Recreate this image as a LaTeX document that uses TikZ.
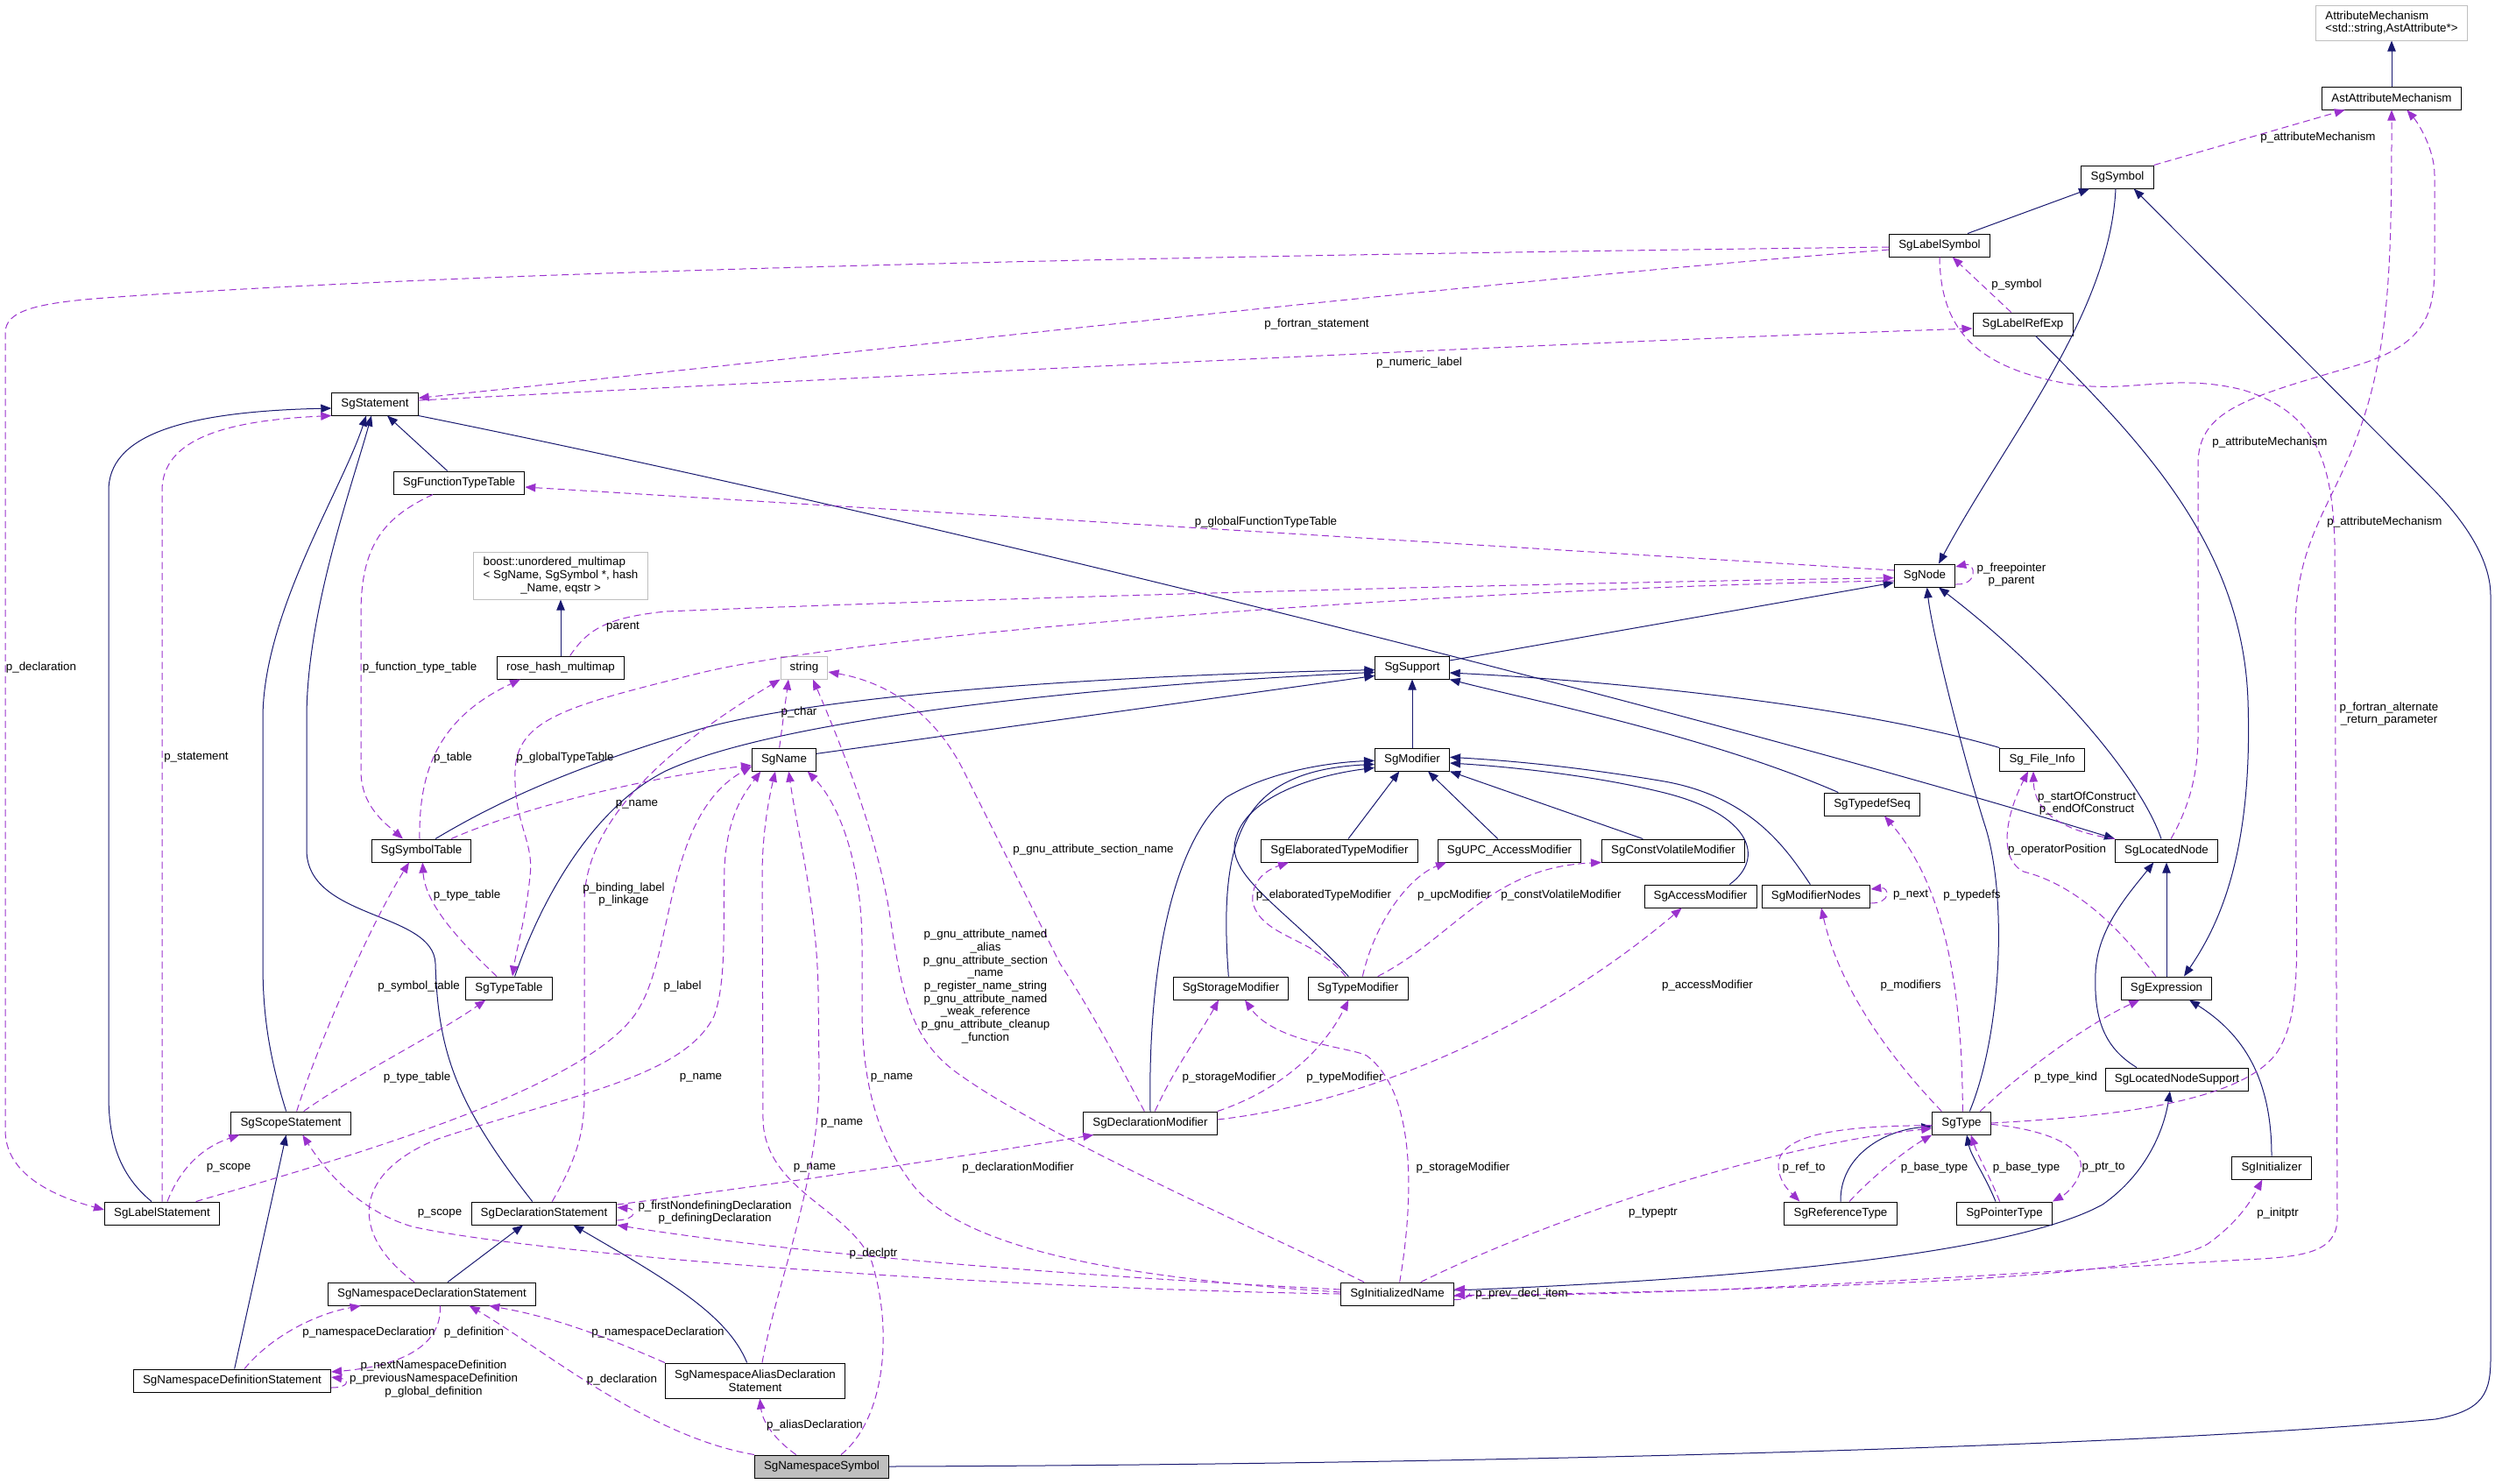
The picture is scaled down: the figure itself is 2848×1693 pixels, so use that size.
\documentclass[tikz,border=0pt]{standalone}
\usepackage{fontspec}
\usepackage{xcolor}
\usetikzlibrary{arrows.meta}
\newfontfamily\dotfont{Liberation Sans}
\newcommand{\dotsize}{\dotfont\fontsize{10}{11}\selectfont}
\definecolor{inhcol}{HTML}{191970}
\definecolor{usecol}{HTML}{9A32CD}
\definecolor{extcol}{HTML}{BFBFBF}
\tikzset{
  cls/.style={draw=black, line width=0.75pt, fill=white, inner xsep=8pt, inner ysep=2pt,
    minimum height=19.5pt, font=\dotsize},
  ext/.style={cls, draw=extcol},
  focus/.style={cls, fill=extcol},
  inh/.style={draw=inhcol, line width=0.75pt, -{Triangle[length=9pt,width=7pt]}},
  use/.style={draw=usecol, line width=0.75pt, dash pattern=on 6pt off 3.5pt,
    -{Triangle[length=9pt,width=7pt]}},
  lbl/.style={font=\dotsize, align=center, inner sep=0pt}
}

\begin{document}
\begin{tikzpicture}[x=0.75pt,y=-0.75pt]
  \useasboundingbox (0,0) rectangle (2848,1693);

  % classes
  \node[ext, align=left, minimum height=30pt] (attrmech) at (2730,26)
    {AttributeMechanism\\<std::string,AstAttribute*>};
  \node[cls] (astattr) at (2730,112) {AstAttributeMechanism};
  \node[cls] (symbol) at (2417,202) {SgSymbol};
  \node[cls] (labelsym) at (2214,280) {SgLabelSymbol};
  \node[cls] (labelrefexp) at (2309,370) {SgLabelRefExp};
  \node[cls] (statement) at (428,461) {SgStatement};
  \node[cls] (functypetable) at (524,551) {SgFunctionTypeTable};
  \node[ext, align=left, minimum height=40.5pt] (boostmap) at (640,657)
    {boost::unordered\_multimap\\< SgName, SgSymbol *, hash\\\hspace*{32pt}\_Name, eqstr >};
  \node[cls] (rosehash) at (640,762) {rose\_hash\_multimap};
  \node[ext] (string) at (918,762) {string};
  \node[cls] (name) at (895,867) {SgName};
  \node[cls] (symboltable) at (481,971) {SgSymbolTable};
  \node[cls] (typetable) at (581,1128) {SgTypeTable};
  \node[cls] (scopestmt) at (332,1282) {SgScopeStatement};
  \node[cls] (labelstmt) at (185,1385) {SgLabelStatement};
  \node[cls] (declstmt) at (621,1385) {SgDeclarationStatement};
  \node[cls] (nsdecl) at (493,1477) {SgNamespaceDeclarationStatement};
  \node[cls] (nsdef) at (265,1576) {SgNamespaceDefinitionStatement};
  \node[cls, align=center, minimum height=30pt] (nsalias) at (862,1576)
    {SgNamespaceAliasDeclaration\\Statement};
  \node[focus] (nssym) at (938,1674) {SgNamespaceSymbol};
  \node[cls] (support) at (1612,762) {SgSupport};
  \node[cls] (modifier) at (1612,867) {SgModifier};
  \node[cls] (elabmod) at (1529,971) {SgElaboratedTypeModifier};
  \node[cls] (upcmod) at (1723,971) {SgUPC\_AccessModifier};
  \node[cls] (cvmod) at (1910,971) {SgConstVolatileModifier};
  \node[cls] (storagemod) at (1405,1128) {SgStorageModifier};
  \node[cls] (typemod) at (1550,1128) {SgTypeModifier};
  \node[cls] (accessmod) at (1941,1023) {SgAccessModifier};
  \node[cls] (modnodes) at (2073,1023) {SgModifierNodes};
  \node[cls] (sgnode) at (2197,657) {SgNode};
  \node[cls] (fileinfo) at (2331,867) {Sg\_File\_Info};
  \node[cls] (typedefseq) at (2137,918) {SgTypedefSeq};
  \node[cls] (locnode) at (2473,971) {SgLocatedNode};
  \node[cls] (expression) at (2473,1128) {SgExpression};
  \node[cls] (type) at (2239,1282) {SgType};
  \node[cls] (locnodesup) at (2485,1232) {SgLocatedNodeSupport};
  \node[cls] (initializer) at (2593,1333) {SgInitializer};
  \node[cls] (reftype) at (2101,1385) {SgReferenceType};
  \node[cls] (ptrtype) at (2288,1385) {SgPointerType};
  \node[cls] (initname) at (1595,1477) {SgInitializedName};
  \node[cls] (declmod) at (1313,1282) {SgDeclarationModifier};

  % inheritance
  \draw[inh] (astattr) -- (attrmech);
  \draw[inh] (rosehash) -- (boostmap);
  \draw[inh] ([xshift=24pt]labelsym.north) -- ([xshift=-24pt]symbol.south);
  \draw[inh] ([xshift=-1.5pt]symbol.south) .. controls (2408,360) and (2290,500) .. ([xshift=12pt]sgnode.north);
  \draw[inh] (nssym.east) .. controls (1600,1672) and (2400,1655) .. (2780,1620)
    .. controls (2835,1610) and (2843,1590) .. (2843,1550) -- (2843,680)
    .. controls (2843,630) and (2800,582) .. (2779,560) -- ([xshift=14pt]symbol.south);
  \draw[inh] ([xshift=11pt]labelrefexp.south) .. controls (2440,500) and (2560,620) .. (2566,800)
    .. controls (2572,980) and (2530,1060) .. ([xshift=15pt]expression.north);
  \draw[inh] (statement.south east) .. controls (1100,600) and (2000,830) .. (locnode.north west);
  \draw[inh] ([xshift=-10pt]functypetable.north) -- ([xshift=10.5pt]statement.south);
  \draw[inh] ([xshift=-9pt]labelstmt.north) .. controls (135,1340) and (124,1300) .. (124,1250) -- (124,560)
    .. controls (124,500) and (200,470) .. ([yshift=-3.75pt]statement.west);
  \draw[inh] ([xshift=-4pt]scopestmt.north) .. controls (305,1200) and (300,1150) .. (300,1100) -- (300,820)
    .. controls (300,700) and (390,560) .. ([xshift=-7.5pt]statement.south);
  \draw[inh] ([xshift=-10pt]declstmt.north) .. controls (520,1260) and (500,1200) .. (497,1100)
    .. controls (495,1040) and (350,1050) .. (350,970) -- (350,820)
    .. controls (350,700) and (400,560) .. ([xshift=-3pt]statement.south);
  \draw[inh] ([xshift=12pt]symboltable.north) .. controls (560,920) and (640,880) .. (800,832)
    .. controls (950,790) and (1300,770) .. ([yshift=-2pt]support.west);
  \draw[inh] ([xshift=5pt]typetable.north) .. controls (620,1020) and (680,920) .. (760,880)
    .. controls (900,815) and (1300,780) .. ([yshift=-4pt]support.west);
  \draw[inh] ([yshift=5pt]name.east) -- ([yshift=-7pt]support.west);
  \draw[inh] (modifier) -- (support);
  \draw[inh] (fileinfo.north west) .. controls (2100,800) and (1800,775) .. ([yshift=-4.5pt]support.east);
  \draw[inh] ([xshift=-29pt]typedefseq.north) .. controls (1950,840) and (1750,800) .. (support.south east);
  \draw[inh] ([yshift=6pt]support.east) -- ([yshift=-6pt]sgnode.west);
  \draw[inh] ([xshift=7.5pt]elabmod.north) -- ([xshift=-11pt]modifier.south);
  \draw[inh] ([xshift=-10pt]upcmod.north) -- ([xshift=13.5pt]modifier.south);
  \draw[inh] ([xshift=-26pt]cvmod.north) -- (modifier.south east);
  \draw[inh] ([xshift=-2pt]storagemod.north) .. controls (1390,950) and (1420,880) .. ([yshift=-4pt]modifier.west);
  \draw[inh] ([xshift=-8pt]typemod.north) .. controls (1470,1040) and (1400,1000) .. (1410,960)
    .. controls (1420,910) and (1500,885) .. ([yshift=-7pt]modifier.west);
  \draw[inh] (declmod.north) .. controls (1310,1100) and (1340,960) .. (1400,910)
    .. controls (1450,880) and (1520,870) .. ([yshift=-1pt]modifier.west);
  \draw[inh] ([xshift=25pt]accessmod.north) .. controls (2015,980) and (2000,930) .. (1900,905)
    .. controls (1820,885) and (1720,875) .. ([yshift=-3pt]modifier.east);
  \draw[inh] ([xshift=-5pt]modnodes.north) .. controls (2040,970) and (2000,910) .. (1900,892)
    .. controls (1800,875) and (1720,868) .. ([yshift=2pt]modifier.east);
  \draw[inh] ([xshift=-4.5pt]locnode.north) .. controls (2440,880) and (2330,760) .. ([xshift=12pt]sgnode.south);
  \draw[inh] ([xshift=7pt]type.north) .. controls (2285,1180) and (2292,1020) .. (2265,940)
    .. controls (2240,860) and (2205,720) .. ([xshift=2pt]sgnode.south);
  \draw[inh] (expression) -- (locnode);
  \draw[inh] ([xshift=-34.5pt]locnodesup.north) .. controls (2400,1195) and (2390,1160) .. (2392,1110)
    .. controls (2394,1060) and (2430,1020) .. ([xshift=-11pt]locnode.south);
  \draw[inh] (initializer.north) .. controls (2593,1230) and (2560,1180) .. ([xshift=19.5pt]expression.south);
  \draw[inh] (reftype.north) .. controls (2100,1320) and (2150,1290) .. ([yshift=-3pt]type.west);
  \draw[inh] ([xshift=-7.5pt]ptrtype.north) .. controls (2265,1340) and (2250,1320) .. ([xshift=4.5pt]type.south);
  \draw[inh] ([yshift=3pt]initname.east) .. controls (2000,1460) and (2300,1430) .. (2400,1375)
    .. controls (2450,1340) and (2470,1290) .. ([xshift=-6pt]locnodesup.south);
  \draw[inh] ([xshift=13.5pt]nsdecl.north) -- ([xshift=-18pt]declstmt.south);
  \draw[inh] ([xshift=-7pt]nsalias.north) .. controls (830,1500) and (760,1460) .. ([xshift=25pt]declstmt.south);
  \draw[inh] ([xshift=2pt]nsdef.north) -- ([xshift=-4pt]scopestmt.south);

  % members
  \draw[use] (symbol.north east) -- ([xshift=-40pt]astattr.south);
  \draw[use] ([xshift=3.75pt]locnode.north) .. controls (2500,920) and (2509,880) .. (2509,840) -- (2509,530)
    .. controls (2509,470) and (2560,455) .. (2680,420) .. controls (2770,395) and (2779,360) .. (2779,300)
    -- (2779,200) .. controls (2779,170) and (2760,140) .. ([xshift=13pt]astattr.south);
  \draw[use] (type.east) .. controls (2400,1275) and (2560,1260) .. (2600,1200)
    .. controls (2625,1160) and (2622,1100) .. (2621,1000) -- (2620,720)
    .. controls (2620,620) and (2660,580) .. (2690,500) .. controls (2728,400) and (2730,300) .. (astattr.south);
  \draw[use] ([yshift=-1.5pt]labelsym.west) .. controls (1500,290) and (600,305) .. (120,340)
    .. controls (40,346) and (6,355) .. (6,380) -- (6,1290)
    .. controls (6,1340) and (60,1365) .. ([yshift=3pt]labelstmt.west);
  \draw[use] ([yshift=-3.75pt]labelsym.west) .. controls (1700,320) and (1000,400) .. ([yshift=5pt]statement.east);
  \draw[use] ([yshift=3pt]statement.east) .. controls (1000,430) and (1800,390) .. ([yshift=-3.75pt]labelrefexp.west);
  \draw[use] ([xshift=-10pt]labelrefexp.north) -- ([xshift=11pt]labelsym.south);
  \draw[use] (labelsym.south) .. controls (2215,380) and (2260,420) .. (2360,438)
    .. controls (2430,450) and (2480,425) .. (2560,445) .. controls (2640,470) and (2662,520) .. (2665,620)
    -- (2668,1390) .. controls (2668,1430) and (2630,1435) .. (2560,1438)
    .. controls (2200,1460) and (1900,1480) .. ([yshift=-1pt]initname.east);
  \draw[use] ([yshift=4.5pt]sgnode.west) -- ([yshift=-3.75pt]functypetable.east);
  \draw[use] ([yshift=-4.5pt]sgnode.west) .. controls (1700,670) and (1000,720) .. (800,768)
    .. controls (650,805) and (590,820) .. (588,880) .. controls (586,940) and (610,960) .. (605,1000)
    .. controls (600,1050) and (590,1080) .. ([xshift=3pt]typetable.north);
  \draw[use] ([xshift=8pt]rosehash.north) .. controls (670,720) and (690,705) .. (760,698)
    .. controls (1200,680) and (1800,665) .. ([yshift=-2pt]sgnode.west);
  \draw[use] ([yshift=-7.5pt]sgnode.east) .. controls +(20pt,-1pt) and +(17pt,4pt) .. ([yshift=7.5pt]sgnode.east);
  \draw[use] ([xshift=-22.5pt]functypetable.south) .. controls (440,590) and (412,620) .. (412,700) -- (412,880)
    .. controls (412,920) and (440,940) .. ([xshift=-15.75pt]symboltable.north);
  \draw[use] ([xshift=-1.5pt]symboltable.north) .. controls (478,880) and (500,820) .. ([xshift=-34.5pt]rosehash.south);
  \draw[use] ([xshift=25.5pt]symboltable.north) .. controls (600,920) and (750,885) .. ([yshift=-5pt]name.west);
  \draw[use] ([xshift=-10.5pt]typetable.north) .. controls (520,1070) and (485,1030) .. ([xshift=1pt]symboltable.south);
  \draw[use] ([xshift=5pt]scopestmt.north) .. controls (360,1200) and (420,1060) .. ([xshift=-10.5pt]symboltable.south);
  \draw[use] ([xshift=11pt]scopestmt.north) .. controls (400,1230) and (500,1180) .. ([xshift=-20pt]typetable.south);
  \draw[use] (labelstmt.north) -- (185,560) .. controls (185,500) and (260,480) .. (statement.south west);
  \draw[use] ([xshift=4.5pt]labelstmt.north) .. controls (205,1335) and (230,1310) .. ([xshift=-44pt]scopestmt.south);
  \draw[use] ([xshift=29pt]labelstmt.north) .. controls (400,1320) and (680,1240) .. (730,1150)
    .. controls (770,1080) and (760,930) .. ([yshift=-6pt]name.west);
  \draw[use] ([xshift=-4pt]name.north) -- ([xshift=-13.5pt]string.south);
  \draw[use] ([xshift=7pt]declstmt.north) .. controls (660,1320) and (667,1290) .. (667,1250) -- (667,1030)
    .. controls (667,920) and (800,830) .. (string.south west);
  \draw[use] ([xshift=-5pt]declmod.north) .. controls (1280,1220) and (1250,1160) .. (1210,1100) -- (1100,880)
    .. controls (1070,820) and (1020,780) .. ([yshift=-3.75pt]string.east);
  \draw[use] ([xshift=-28.5pt]initname.north) .. controls (1450,1410) and (1200,1300) .. (1100,1230)
    .. controls (1040,1190) and (1030,1140) .. (1015,1040) .. controls (1000,950) and (960,850) .. ([xshift=7.5pt]string.south);
  \draw[use] ([yshift=1.5pt]initname.west) .. controls (1300,1460) and (1100,1430) .. (1040,1350)
    .. controls (995,1290) and (984,1220) .. (984,1150) -- (984,1080)
    .. controls (984,990) and (960,920) .. ([xshift=20pt]name.south);
  \draw[use] ([xshift=6pt]nsalias.north) .. controls (885,1470) and (935,1350) .. (935,1230) -- (934,1130)
    .. controls (932,1030) and (910,950) .. ([xshift=4pt]name.south);
  \draw[use] ([xshift=-15pt]nsdecl.north) .. controls (400,1410) and (400,1340) .. (500,1300)
    .. controls (650,1250) and (780,1230) .. (815,1160) .. controls (830,1120) and (825,1050) .. (827,990)
    .. controls (830,930) and (850,905) .. ([xshift=-20pt]name.south);
  \draw[use] ([xshift=16.5pt]nssym.north) .. controls (1010,1620) and (1020,1520) .. (995,1440)
    .. controls (970,1380) and (875,1360) .. (871,1280) -- (870,1000)
    .. controls (870,950) and (878,910) .. ([xshift=-7.5pt]name.south);
  \draw[use] (nssym.north west) .. controls (740,1640) and (620,1540) .. ([xshift=32pt]nsdecl.south);
  \draw[use] ([xshift=-22pt]nssym.north) .. controls (880,1640) and (870,1620) .. ([xshift=4pt]nsalias.south);
  \draw[use] (nsalias.north west) .. controls (700,1530) and (640,1505) .. ([xshift=49pt]nsdecl.south);
  \draw[use] ([xshift=10.5pt]nsdef.north) .. controls (310,1525) and (360,1500) .. ([xshift=-61pt]nsdecl.south);
  \draw[use] ([xshift=7pt]nsdecl.south) .. controls (505,1540) and (450,1560) .. ([yshift=7.5pt]nsdef.east);
  \draw[use] ([yshift=-6pt]nsdef.east) .. controls +(16pt,0pt) and +(15pt,-2pt) .. ([yshift=3pt]nsdef.east);
  \draw[use] ([yshift=7.5pt]declstmt.east) .. controls (900,1350) and (1100,1320) .. ([xshift=9pt]declmod.south west);
  \draw[use] ([yshift=-6pt]declstmt.east) .. controls +(18pt,1pt) and +(16pt,-1pt) .. ([yshift=5pt]declstmt.east);
  \draw[use] ([yshift=3.75pt]initname.west) .. controls (1200,1455) and (900,1430) .. (declstmt.south east);
  \draw[use] (initname.west) .. controls (1100,1470) and (600,1430) .. (470,1400)
    .. controls (420,1385) and (380,1350) .. ([xshift=10pt]scopestmt.south);
  \draw[use] ([xshift=4pt]declmod.north) .. controls (1340,1220) and (1370,1180) .. ([xshift=-10.5pt]storagemod.south);
  \draw[use] (declmod.north east) .. controls (1460,1245) and (1510,1200) .. ([xshift=-8pt]typemod.south);
  \draw[use] ([yshift=3pt]declmod.east) .. controls (1550,1260) and (1750,1180) .. ([xshift=-16pt]accessmod.south);
  \draw[use] ([xshift=2pt]initname.north) .. controls (1612,1380) and (1620,1250) .. (1560,1205)
    .. controls (1540,1195) and (1455,1190) .. ([xshift=12pt]storagemod.south);
  \draw[use] ([xshift=-10.5pt]typemod.north) .. controls (1500,1070) and (1440,1070) .. (1430,1030)
    .. controls (1428,1010) and (1440,995) .. ([xshift=-43.5pt]elabmod.south);
  \draw[use] ([xshift=4pt]typemod.north) .. controls (1570,1050) and (1610,1000) .. ([xshift=-54pt]upcmod.south);
  \draw[use] ([xshift=17pt]typemod.north) .. controls (1660,1070) and (1700,990) .. (cvmod.south west);
  \draw[use] ([yshift=-6pt]modnodes.east) .. controls +(18pt,0pt) and +(16pt,2pt) .. ([yshift=6pt]modnodes.east);
  \draw[use] ([xshift=-17pt]type.north) .. controls (2160,1210) and (2100,1130) .. ([xshift=4.5pt]modnodes.south);
  \draw[use] ([xshift=1pt]type.north) .. controls (2240,1100) and (2210,1000) .. ([xshift=10.5pt]typedefseq.south);
  \draw[use] ([xshift=16pt]type.north) .. controls (2300,1230) and (2380,1170) .. ([xshift=-23pt]expression.south);
  \draw[use] ([yshift=-2pt]type.west) .. controls (2100,1285) and (2030,1295) .. (2030,1330)
    .. controls (2030,1350) and (2045,1362) .. ([xshift=-35pt]reftype.north);
  \draw[use] ([xshift=7.5pt]reftype.north) .. controls (2140,1340) and (2180,1310) .. (type.south west);
  \draw[use] ([xshift=-4pt]ptrtype.north) .. controls (2270,1340) and (2258,1320) .. ([xshift=8pt]type.south);
  \draw[use] ([yshift=-1pt]type.east) .. controls (2340,1290) and (2380,1310) .. (2375,1335)
    .. controls (2372,1350) and (2360,1362) .. (ptrtype.north east);
  \draw[use] ([xshift=20pt]initname.north) .. controls (1750,1400) and (2000,1310) .. ([yshift=-4.5pt]type.west);
  \draw[use] ([yshift=-2pt]initname.east) .. controls (2100,1470) and (2450,1460) .. (2520,1420)
    .. controls (2555,1395) and (2570,1370) .. ([xshift=-8pt]initializer.south);
  \draw[use] ([yshift=-5pt]initname.east) .. controls +(16pt,0pt) and +(16pt,0pt) .. ([yshift=4pt]initname.east);
  \draw[use] ([xshift=-9pt]expression.north) .. controls (2420,1060) and (2370,1010) .. (2310,995)
    .. controls (2280,980) and (2290,930) .. ([xshift=-12pt]fileinfo.south);
  \draw[use] (locnode.north west) .. controls (2360,950) and (2322,930) .. ([xshift=-7.5pt]fileinfo.south);

  % member labels
  \node[lbl] (l-attr-sym) at (2646,157) {p\_attributeMechanism};
  \node[lbl] (l-attr-loc) at (2591,505) {p\_attributeMechanism};
  \node[lbl] (l-attr-type) at (2722,596) {p\_attributeMechanism};
  \node[lbl] (l-decl-lbl) at (47,762) {p\_declaration};
  \node[lbl] (l-fortstmt) at (1503,370) {p\_fortran\_statement};
  \node[lbl] (l-numlabel) at (1620,414) {p\_numeric\_label};
  \node[lbl] (l-symbol) at (2302,325) {p\_symbol};
  \node[lbl] (l-fortalt) at (2727,815) {p\_fortran\_alternate\\\_return\_parameter};
  \node[lbl] (l-gfunctab) at (1445,596) {p\_globalFunctionTypeTable};
  \node[lbl] (l-gtypetab) at (645,865) {p\_globalTypeTable};
  \node[lbl] (l-parent) at (711,716) {parent};
  \node[lbl] (l-freeptr) at (2296,656) {p\_freepointer\\p\_parent};
  \node[lbl] (l-functab) at (479,762) {p\_function\_type\_table};
  \node[lbl] (l-table) at (517,865) {p\_table};
  \node[lbl] (l-name-st) at (727,918) {p\_name};
  \node[lbl] (l-typetab-a) at (533,1022) {p\_type\_table};
  \node[lbl] (l-symtab) at (478,1126) {p\_symbol\_table};
  \node[lbl] (l-typetab-b) at (476,1230) {p\_type\_table};
  \node[lbl] (l-stmt) at (224,865) {p\_statement};
  \node[lbl] (l-scope-lbl) at (261,1333) {p\_scope};
  \node[lbl] (l-label) at (779,1126) {p\_label};
  \node[lbl] (l-char) at (912,813) {p\_char};
  \node[lbl] (l-binding) at (712,1021) {p\_binding\_label\\p\_linkage};
  \node[lbl] (l-gnusect) at (1248,970) {p\_gnu\_attribute\_section\_name};
  \node[lbl] (l-gnumany) at (1125,1126) {p\_gnu\_attribute\_named\\\_alias\\p\_gnu\_attribute\_section\\\_name\\p\_register\_name\_string\\p\_gnu\_attribute\_named\\\_weak\_reference\\p\_gnu\_attribute\_cleanup\\\_function};
  \node[lbl] (l-name-in) at (1018,1230) {p\_name};
  \node[lbl] (l-name-al) at (961,1282) {p\_name};
  \node[lbl] (l-name-nd) at (800,1230) {p\_name};
  \node[lbl] (l-name-ns) at (930,1333) {p\_name};
  \node[lbl] (l-decl-ns) at (710,1575) {p\_declaration};
  \node[lbl] (l-aliasdecl) at (930,1627) {p\_aliasDeclaration};
  \node[lbl] (l-nsdecl-al) at (751,1521) {p\_namespaceDeclaration};
  \node[lbl] (l-nsdecl-df) at (421,1521) {p\_namespaceDeclaration};
  \node[lbl] (l-definition) at (541,1521) {p\_definition};
  \node[lbl] (l-nextdef) at (495,1574) {p\_nextNamespaceDefinition\\p\_previousNamespaceDefinition\\p\_global\_definition};
  \node[lbl] (l-declmod) at (1162,1333) {p\_declarationModifier};
  \node[lbl] (l-firstdecl) at (816,1384) {p\_firstNondefiningDeclaration\\p\_definingDeclaration};
  \node[lbl] (l-declptr) at (997,1431) {p\_declptr};
  \node[lbl] (l-scope-in) at (502,1385) {p\_scope};
  \node[lbl] (l-stor-dm) at (1403,1230) {p\_storageModifier};
  \node[lbl] (l-typemod) at (1535,1230) {p\_typeModifier};
  \node[lbl] (l-access) at (1949,1125) {p\_accessModifier};
  \node[lbl] (l-stor-in) at (1670,1333) {p\_storageModifier};
  \node[lbl] (l-elab) at (1511,1022) {p\_elaboratedTypeModifier};
  \node[lbl] (l-upc) at (1660,1022) {p\_upcModifier};
  \node[lbl] (l-cv) at (1782,1022) {p\_constVolatileModifier};
  \node[lbl] (l-next) at (2181,1022) {p\_next};
  \node[lbl] (l-modifiers) at (2181,1125) {p\_modifiers};
  \node[lbl] (l-typedefs) at (2251,1022) {p\_typedefs};
  \node[lbl] (l-typekind) at (2358,1230) {p\_type\_kind};
  \node[lbl] (l-refto) at (2059,1333) {p\_ref\_to};
  \node[lbl] (l-base-ref) at (2208,1333) {p\_base\_type};
  \node[lbl] (l-base-ptr) at (2313,1333) {p\_base\_type};
  \node[lbl] (l-ptrto) at (2401,1333) {p\_ptr\_to};
  \node[lbl] (l-typeptr) at (1887,1385) {p\_typeptr};
  \node[lbl] (l-initptr) at (2600,1385) {p\_initptr};
  \node[lbl] (l-prevdecl) at (1737,1477) {p\_prev\_decl\_item};
  \node[lbl] (l-oppos) at (2348,970) {p\_operatorPosition};
  \node[lbl] (l-construct) at (2382,917) {p\_startOfConstruct\\p\_endOfConstruct};
\end{tikzpicture}
\end{document}
